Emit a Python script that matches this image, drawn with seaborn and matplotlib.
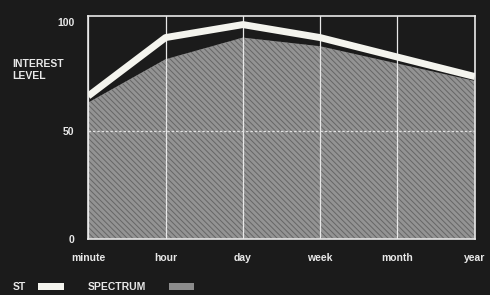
import matplotlib
matplotlib.use("Agg")
import matplotlib.pyplot as plt
import seaborn as sns
import pandas as pd

# data
periods = ["minute", "hour", "day", "week", "month", "year"]
st = [66, 93, 99, 93, 84, 75]
spectrum = [63, 83, 93, 89, 81, 73]

df = pd.DataFrame({"x": range(len(periods)), "st": st, "spectrum": spectrum})

sns.set_style("dark")
plt.rcParams["font.family"] = ["Liberation Sans Narrow", "Liberation Sans", "DejaVu Sans"]

bg = "#1b1b1b"
fig = plt.figure(figsize=(4.9, 2.95), dpi=100, facecolor=bg)
ax = fig.add_axes([0.18, 0.19, 0.789, 0.756])
ax.set_facecolor(bg)

# hatched grey area for SPECTRUM
plt.rcParams["hatch.linewidth"] = 0.7
ax.fill_between(df["x"], 0, df["spectrum"], facecolor="#939393", edgecolor="#666666",
                hatch="\\\\\\\\\\\\", linewidth=0, zorder=1)

# grid
for i in df["x"]:
    ax.axvline(i, color="#e8e8e8", lw=0.9, zorder=2)
ax.axhline(50, color="#e0e0e0", lw=0.9, ls=(0, (2, 1.5)), zorder=2)

# thick white ST line
sns.lineplot(data=df, x="x", y="st", color="#f4f4ee", lw=5, ax=ax, zorder=3,
             solid_capstyle="butt", solid_joinstyle="round")

ax.set_xlim(0, len(periods) - 1)
ax.set_ylim(0, 103)
ax.set_xticks(range(len(periods)))
ax.set_xticklabels(periods)
ax.set_yticks([0, 50, 100])
ax.set_yticklabels(["0", "50", "100"])
ax.tick_params(colors="#e8e8e8", labelsize=7.5, length=0, pad=10)
for lab in ax.get_xticklabels() + ax.get_yticklabels():
    lab.set_fontweight("bold")
ax.set_xlabel("")
ax.set_ylabel("")
for s in ax.spines.values():
    s.set_visible(True)
    s.set_color("#e8e8e8")
    s.set_linewidth(1.2)

fig.text(0.025, 0.80, "INTEREST\nLEVEL", color="#e8e8e8", fontsize=7.5, fontweight="bold",
         va="top", ha="left", linespacing=1.3)

# legend at bottom
fig.text(0.025, 0.01, "ST", color="#e8e8e8", fontsize=7.5, fontweight="bold", va="bottom")
fig.patches.append(plt.Rectangle((0.078, 0.017), 0.052, 0.024, transform=fig.transFigure,
                                 facecolor="#f4f4ee", edgecolor="none"))
fig.text(0.178, 0.01, "SPECTRUM", color="#e8e8e8", fontsize=7.5, fontweight="bold", va="bottom")
fig.patches.append(plt.Rectangle((0.345, 0.017), 0.05, 0.024, transform=fig.transFigure,
                                 facecolor="#8c8c8c", edgecolor="none"))

fig.savefig("out.png", dpi=100, facecolor=bg)
